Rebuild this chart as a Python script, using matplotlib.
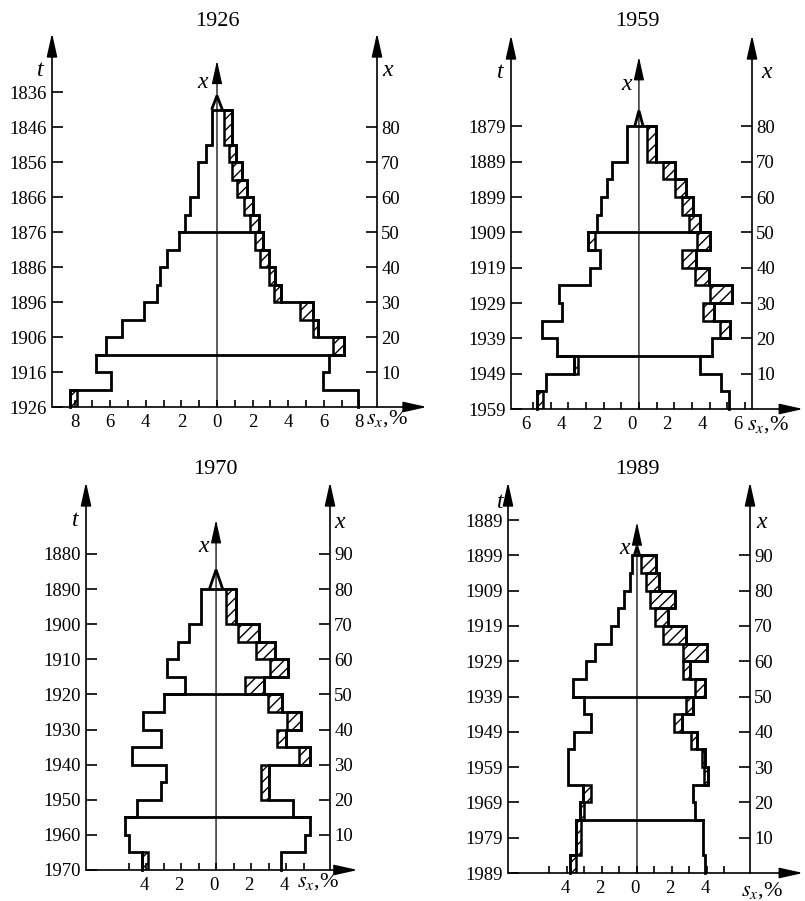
import matplotlib
matplotlib.use('Agg')
import matplotlib.pyplot as plt
import matplotlib.transforms as mtransforms
from matplotlib.patches import Rectangle, Polygon

plt.rcParams['font.family'] = ['Liberation Serif', 'DejaVu Serif']
plt.rcParams['mathtext.fontset'] = 'stix'
plt.rcParams['hatch.linewidth'] = 1.0

W, H = 805, 901

# ---- data: 5-year age groups, shares in % (left = men, right = women) ----
census_years = [1926, 1959, 1970, 1989]

edges_1926 = [0, 5, 10, 15, 20, 25, 30, 35, 40, 45, 50, 55, 60, 65, 70, 75, 80, 85]
left_1926 = [8.26, 5.94, 6.77, 6.26, 5.36, 4.11, 3.36, 3.18, 2.80, 2.15, 1.78, 1.50, 1.07, 1.07, 0.62, 0.28, 0.28]
right_1926 = [7.90, 5.98, 6.32, 7.14, 5.70, 5.42, 3.59, 3.27, 2.90, 2.56, 2.34, 2.00, 1.68, 1.40, 1.08, 0.84, 0.84]
hatch_l_1926 = [0.41, 0, 0, 0, 0, 0, 0, 0, 0, 0, 0, 0, 0, 0, 0, 0, 0]
hatch_r_1926 = [0, 0, 0, 0.60, 0.28, 0.75, 0.41, 0.37, 0.47, 0.45, 0.47, 0.50, 0.56, 0.56, 0.43, 0.47, 0.47]

edges_1959 = [0, 5, 10, 15, 20, 25, 30, 35, 40, 45, 50, 55, 60, 65, 70, 80]
left_1959 = [5.77, 5.28, 3.67, 4.66, 5.51, 4.36, 4.50, 2.75, 2.22, 2.87, 2.40, 2.15, 1.83, 1.55, 0.70]
right_1959 = [5.08, 4.66, 3.45, 4.14, 5.13, 4.24, 5.25, 3.95, 3.22, 4.02, 3.45, 3.08, 2.66, 2.04, 0.96]
hatch_l_1959 = [0.35, 0, 0.25, 0, 0, 0, 0, 0, 0, 0.38, 0, 0, 0, 0, 0]
hatch_r_1959 = [0, 0, 0, 0, 0.56, 0.64, 1.24, 0.76, 0.77, 0.76, 0.60, 0.66, 0.62, 0.66, 0.53]

edges_1970 = [0, 5, 10, 15, 20, 25, 30, 35, 40, 45, 50, 55, 60, 65, 70, 80]
left_1970 = [4.25, 5.00, 5.20, 4.53, 3.16, 2.85, 4.82, 3.16, 4.20, 2.95, 1.77, 2.82, 2.15, 1.54, 0.86]
right_1970 = [3.73, 5.09, 5.39, 4.42, 3.05, 3.05, 5.37, 3.98, 4.84, 3.75, 2.74, 4.10, 3.37, 2.46, 1.12]
hatch_l_1970 = [0.38, 0, 0, 0, 0, 0, 0, 0, 0, 0, 0, 0, 0, 0, 0]
hatch_r_1970 = [0, 0, 0, 0, 0.50, 0.50, 0.63, 0.51, 0.80, 0.76, 1.08, 1.01, 1.10, 1.22, 0.55]

edges_1989 = [0, 5, 10, 15, 20, 25, 30, 35, 40, 45, 50, 55, 60, 65, 70, 75, 80, 85, 90]
left_1989 = [3.81, 3.50, 3.50, 3.28, 3.09, 3.94, 3.94, 3.62, 2.61, 3.03, 3.66, 2.90, 2.38, 1.47, 1.09, 0.74, 0.42, 0.29]
right_1989 = [3.90, 3.80, 3.80, 3.30, 3.20, 4.08, 3.90, 3.42, 2.58, 3.20, 3.87, 3.05, 4.00, 2.78, 1.77, 2.15, 1.26, 1.10]
hatch_l_1989 = [0.33, 0.30, 0.30, 0.28, 0.45, 0, 0, 0, 0, 0, 0, 0, 0, 0, 0, 0, 0, 0]
hatch_r_1989 = [0, 0, 0, 0, 0, 0.25, 0.20, 0.33, 0.46, 0.38, 0.57, 0.40, 1.37, 1.29, 0.76, 1.43, 0.73, 0.85]

# open-ended oldest group drawn as a small peak: apex age, half width (%)
peak_age = [89, 84.5, 85.5, 92.5]
peak_w = [0.30, 0.24, 0.38, 0.15]

left_ages = [[0, 10, 20, 30, 40, 50, 60, 70, 80, 90],
             [0, 10, 20, 30, 40, 50, 60, 70, 80],
             [0, 10, 20, 30, 40, 50, 60, 70, 80, 90],
             [0, 10, 20, 30, 40, 50, 60, 70, 80, 90, 100]]
right_ages = [[10, 20, 30, 40, 50, 60, 70, 80],
              [10, 20, 30, 40, 50, 60, 70, 80],
              [10, 20, 30, 40, 50, 60, 70, 80, 90],
              [10, 20, 30, 40, 50, 60, 70, 80, 90]]
share_ticks = [[-8, -7, -6, -5, -4, -3, -2, -1, 0, 1, 2, 3, 4, 5, 6, 7, 8],
               [-6, -5, -4, -3, -2, -1, 0, 1, 2, 3, 4, 5, 6],
               [-5, -4, -3, -2, -1, 0, 1, 2, 3, 4, 5],
               [-5, -4, -3, -2, -1, 0, 1, 2, 3, 4, 5]]
share_labels = [[-8, -6, -4, -2, 0, 2, 4, 6, 8],
                [-6, -4, -2, 0, 2, 4, 6],
                [-4, -2, 0, 2, 4],
                [-4, -2, 0, 2, 4]]

data = [
    (edges_1926, left_1926, right_1926, hatch_l_1926, hatch_r_1926),
    (edges_1959, left_1959, right_1959, hatch_l_1959, hatch_r_1959),
    (edges_1970, left_1970, right_1970, hatch_l_1970, hatch_r_1970),
    (edges_1989, left_1989, right_1989, hatch_l_1989, hatch_r_1989),
]

# ---- layout (pixels): left axis, right axis, bottom axis, top arrow ----
layout = [
    dict(box=(52, 377, 407, 33), xlim=(-9.27, 8.99), ytop=106.9, tip=99, arrow=11.8, lab_dx=0,
         title=(217, 22), t=(40, 70), x_r=(388, 70), x_c=(203, 83), sx=(387, 419)),
    dict(box=(511, 752, 409, 35), xlim=(-7.24, 6.40), ytop=105.9, tip=99.7, arrow=9.3, lab_dx=-7,
         title=(637, 22), t=(500, 73), x_r=(767, 72), x_c=(627, 85), sx=(768, 425)),
    dict(box=(86, 330, 870, 482), xlim=(-7.43, 6.51), ytop=110.5, tip=99.7, arrow=8.1, lab_dx=-2,
         title=(215, 470), t=(75, 520), x_r=(340, 522), x_c=(204, 547), sx=(318, 882)),
    dict(box=(508, 750, 873, 482), xlim=(-7.37, 6.46), ytop=110.8, tip=99.4, arrow=9.5, lab_dx=-2,
         title=(637, 470), t=(500, 502), x_r=(762, 522), x_c=(625, 548), sx=(762, 891)),
]

OUT_LW = 2.0
AX_LW = 1.2


def fpos(x, y):
    return x / W, 1 - y / H


def arrow(ax, start, end, lw=AX_LW):
    ax.annotate('', xy=end, xytext=start, xycoords='data', textcoords='data',
                annotation_clip=False,
                arrowprops=dict(arrowstyle='-|>,head_length=0.9,head_width=0.2',
                                lw=lw, color='black', shrinkA=0, shrinkB=0,
                                mutation_scale=16))


def merged(edges, vals, hatch):
    # join neighbouring groups with identical hatched boxes
    out = []
    for i in range(len(vals)):
        if hatch[i] <= 0:
            continue
        if out and out[-1][1] == edges[i] and out[-1][2] == vals[i] and out[-1][3] == hatch[i]:
            out[-1][1] = edges[i + 1]
        else:
            out.append([edges[i], edges[i + 1], vals[i], hatch[i]])
    return out


fig = plt.figure(figsize=(W / 100, H / 100), dpi=100)

for k, year in enumerate(census_years):
    edges, left, right, hl, hr = data[k]
    lay = layout[k]
    lp, rp, bp, tp = lay['box']
    ax = fig.add_axes([lp / W, 1 - bp / H, (rp - lp) / W, (bp - tp) / H])
    ax.set_xlim(*lay['xlim'])
    ax.set_ylim(0, lay['ytop'])
    for s in ax.spines.values():
        s.set_visible(False)

    # axes with arrows
    xl, xr = lay['xlim']
    arrow(ax, (xl, 0), (xl, lay['ytop']))
    arrow(ax, (xr, 0), (xr, lay['ytop']))
    arrow(ax, (xl, 0), (lay['arrow'], 0))
    arrow(ax, (0, 0), (0, lay['tip']), lw=0.9)

    # ticks
    ax.set_yticks(left_ages[k])
    ax.set_yticklabels([str(year - a) for a in left_ages[k]])
    ax.tick_params(axis='y', direction='in', length=8, width=AX_LW, labelsize=13.5, pad=4)
    ax.set_xticks(share_labels[k])
    ax.set_xticklabels([str(abs(v)) for v in share_labels[k]])
    ax.set_xticks([v for v in share_ticks[k] if v not in share_labels[k]], minor=True)
    ax.tick_params(axis='x', which='both', direction='in', length=5, width=AX_LW,
                   labelsize=13.5, pad=5)
    shift = mtransforms.ScaledTranslation(lay['lab_dx'] / 100, 0, fig.dpi_scale_trans)
    for lab in ax.get_xticklabels():
        lab.set_transform(lab.get_transform() + shift)
    tw = ax.twinx()
    tw.set_ylim(0, lay['ytop'])
    for s in tw.spines.values():
        s.set_visible(False)
    tw.set_yticks(right_ages[k])
    tw.set_yticklabels([str(a) for a in right_ages[k]])
    tw.tick_params(axis='y', direction='in', length=8, width=AX_LW, labelsize=13.5, pad=3)

    # pyramid outline
    xs_l, ys_l, xs_r, ys_r = [], [], [], []
    for i in range(len(left)):
        xs_l += [-left[i], -left[i]]
        ys_l += [edges[i], edges[i + 1]]
        xs_r += [right[i], right[i]]
        ys_r += [edges[i], edges[i + 1]]
    top = edges[-1]
    ax.plot(xs_l + [-left[-1], right[-1]] + xs_r[::-1], ys_l + [top, top] + ys_r[::-1],
            color='black', lw=OUT_LW, solid_joinstyle='miter', clip_on=False)
    ax.add_patch(Polygon([(-peak_w[k], top), (0, peak_age[k]), (peak_w[k], top)],
                         closed=False, fill=False, lw=OUT_LW, edgecolor='black',
                         joinstyle='miter', clip_on=False))

    # hatched excess of one sex over the other
    for y0, y1, v, h in merged(edges, right, hr):
        ax.add_patch(Rectangle((v - h, y0), h, y1 - y0, fill=False, hatch='///',
                               edgecolor='black', lw=OUT_LW * 0.9))
    for y0, y1, v, h in merged(edges, left, hl):
        ax.add_patch(Rectangle((-v, y0), h, y1 - y0, fill=False, hatch='///',
                               edgecolor='black', lw=OUT_LW * 0.9))

    # boundaries of reproductive ages
    for age in (15, 50):
        i = edges.index(age)
        ax.plot([-max(left[i - 1], left[i]), max(right[i - 1], right[i])], [age, age],
                color='black', lw=OUT_LW)

    # labels
    fig.text(*fpos(*lay['title']), str(year), ha='center', va='center', fontsize=16)
    fig.text(*fpos(*lay['t']), 't', ha='center', va='center', fontsize=17, style='italic')
    fig.text(*fpos(*lay['x_r']), 'x', ha='center', va='center', fontsize=17, style='italic')
    fig.text(*fpos(*lay['x_c']), 'x', ha='center', va='center', fontsize=17, style='italic')
    fig.text(*fpos(*lay['sx']), r'$s_x$,%', ha='center', va='center', fontsize=16)

fig.savefig('out.png', dpi=100, facecolor='white')
